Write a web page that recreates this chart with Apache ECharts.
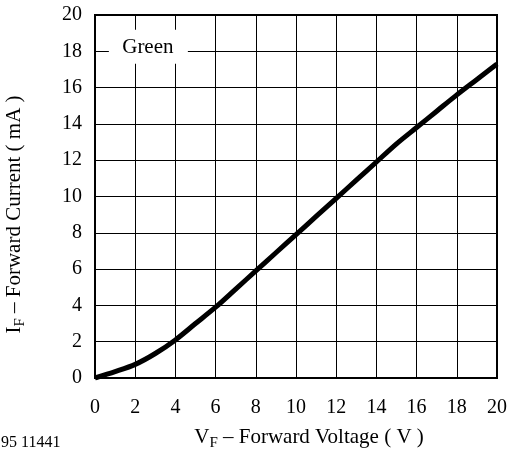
<!DOCTYPE html>
<html><head><meta charset="utf-8">
<script src="https://cdn.jsdelivr.net/npm/echarts@6/dist/echarts.min.js"></script>
<style>html,body{margin:0;padding:0;background:#fff}#c{width:510px;height:452px}</style>
</head><body><div id="c"></div>
<script>
const voltage = [0,1,2,3,4,5,6,7,8,9,10,11,12,13,14,15,16,17,18,19,20];
const current = [0,0.35,0.75,1.35,2.1,3.0,3.9,4.9,5.9,6.9,7.9,8.9,9.9,10.9,11.9,12.9,13.8,14.7,15.6,16.45,17.3];
const xTicks = [0,2,4,6,8,10,12,14,16,18,20];
const yTicks = [0,2,4,6,8,10,12,14,16,18,20];
const seriesLabel = 'Green';
const figureCode = '95 11441';

const FONT = '"Liberation Serif", "Times New Roman", serif';
const chart = echarts.init(document.getElementById('c'));
const richName = {
  m: { fontFamily: FONT, fontSize: 21, color: '#000', lineHeight: 21, verticalAlign: 'top' },
  s: { fontFamily: FONT, fontSize: 15, color: '#000', lineHeight: 15, padding: [9,0,0,0], verticalAlign: 'top' }
};
const option = {
  animation: false,
  backgroundColor: '#fff',
  grid: { left: 95, right: 13, top: 15, bottom: 74, show: true, borderColor: '#000', borderWidth: 2, z: 5,
          containLabel: false, outerBoundsMode: 'none' },
  xAxis: {
    type: 'value', min: xTicks[0], max: xTicks[xTicks.length-1], interval: 2,
    axisLine: { show: false }, axisTick: { show: false },
    splitLine: { show: true, lineStyle: { color: '#000', width: 1 } },
    axisLabel: { color: '#000', fontFamily: FONT, fontSize: 20, margin: 20 },
    name: '{m|V}{s|F}{m| – Forward Voltage ( V )}',
    nameLocation: 'middle', nameGap: 49, nameMoveOverlap: false,
    nameTextStyle: { rich: richName, padding: [0,0,0,26] }
  },
  yAxis: {
    type: 'value', min: yTicks[0], max: yTicks[yTicks.length-1], interval: 2,
    axisLine: { show: false }, axisTick: { show: false },
    splitLine: { show: true, lineStyle: { color: '#000', width: 1 } },
    axisLabel: { color: '#000', fontFamily: FONT, fontSize: 20, margin: 13 },
    name: '{m|I}{s|F}{m| – Forward Current ( mA )}',
    nameLocation: 'middle', nameGap: 70, nameRotate: 90, nameMoveOverlap: false,
    nameTextStyle: { rich: richName, padding: [0,36,0,0] }
  },
  series: [{
    type: 'line', data: voltage.map((v,i)=>[v,current[i]]),
    smooth: 0.3, showSymbol: false, symbol: 'none',
    lineStyle: { color: '#000', width: 5 }, z: 10
  }],
  graphic: []
};
chart.setOption(option);
const p = chart.convertToPixel({gridIndex:0}, [2.63, 18.2]);
chart.setOption({ graphic: [
  { type: 'rect', shape: { x: p[0]-39, y: p[1]-18, width: 79, height: 34 }, style: { fill: '#fff' }, z: 20 },
  { type: 'text', x: p[0], y: p[1], style: { text: seriesLabel, font: '21px ' + FONT, fill: '#000', align: 'center', verticalAlign: 'middle' }, z: 21 },
  { type: 'text', left: 1, top: 435, style: { text: figureCode, font: '16px ' + FONT, fill: '#000' }, z: 21 }
]});
</script></body></html>
